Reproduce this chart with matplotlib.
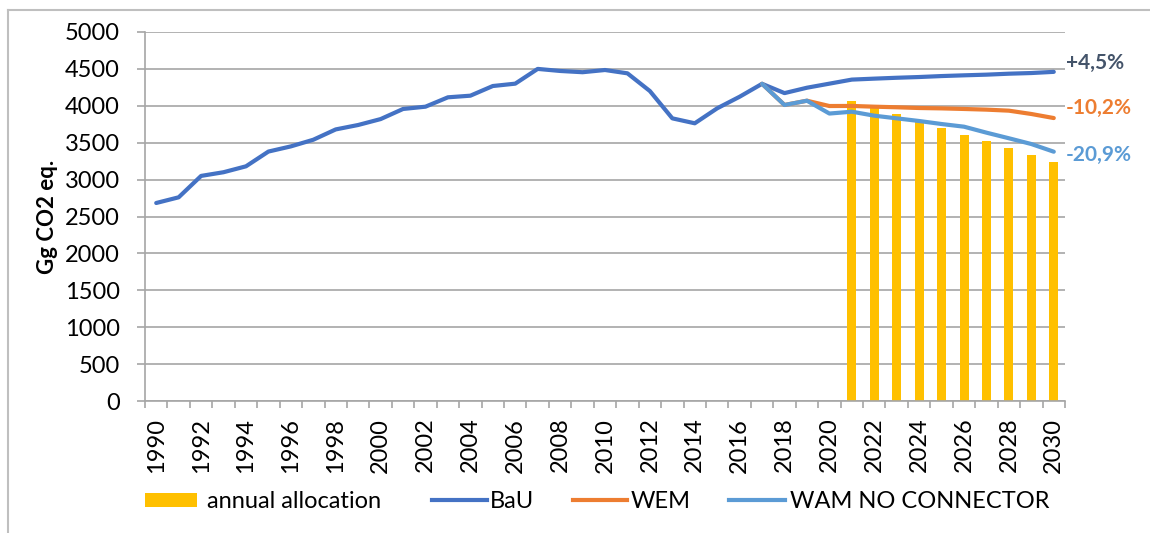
import numpy as np
import matplotlib
matplotlib.use("Agg")
import matplotlib.pyplot as plt
from matplotlib.lines import Line2D
from matplotlib.patches import Rectangle

plt.rcParams['font.family'] = ['Lato', 'DejaVu Sans']

years = list(range(1990, 2031))
nan = np.nan

bau = [2683, 2760, 3050, 3100, 3180, 3380, 3450, 3540, 3680, 3740,
       3820, 3957, 3988, 4115, 4137, 4268, 4300, 4500, 4472, 4455,
       4485, 4440, 4200, 3830, 3763, 3966, 4123, 4298, 4172, 4245,
       4300, 4355, 4368, 4380, 4390, 4403, 4413, 4422, 4435, 4444, 4460]
wem = [nan] * 27 + [4298, 4011, 4069,
       3997, 3998, 3988, 3980, 3970, 3965, 3957, 3948, 3934, 3889, 3834]
wam = [nan] * 27 + [4298, 4011, 4069,
       3895, 3920, 3866, 3830, 3794, 3753, 3717, 3636, 3560, 3482, 3378]
allocation = [nan] * 31 + [4069, 3966, 3889, 3798, 3699, 3604, 3523, 3428, 3333, 3243]

end_labels = ["+4,5%", "-10,2%", "-20,9%"]
end_colors = ["#44546A", "#ED7D31", "#5B9BD5"]
legend_labels = ["annual allocation", "BaU", "WEM", "WAM NO CONNECTOR"]

C_BAR = "#FFC000"
C_BAU = "#4472C4"
C_WEM = "#ED7D31"
C_WAM = "#5B9BD5"
GRID = "#A6A6A6"

W, H = 1150, 533
fig = plt.figure(figsize=(W / 100, H / 100), dpi=100)
ax = fig.add_axes([145 / W, 1 - 401 / H, 920 / W, 369 / H])

x = np.arange(len(years))
ax.bar(x, allocation, width=0.4, color=C_BAR, zorder=2)
ax.plot(x, bau, color=C_BAU, lw=3, zorder=3, solid_capstyle='round')
ax.plot(x, wem, color=C_WEM, lw=3, zorder=4, solid_capstyle='round')
ax.plot(x, wam, color=C_WAM, lw=3, zorder=5, solid_capstyle='round')

ax.set_xlim(-0.5, len(years) - 0.5)
ax.set_ylim(0, 5000)
ax.set_yticks(np.arange(0, 5001, 500))
ax.yaxis.grid(True, color=GRID, lw=1.2, zorder=0)
ax.set_axisbelow(True)

# category boundaries as major ticks (no labels), centres as minor ticks with labels
ax.set_xticks(np.arange(-0.5, len(years), 1.0))
ax.set_xticklabels([])
even_idx = [i for i, y in enumerate(years) if y % 2 == 0]
ax.set_xticks(even_idx, minor=True)
ax.set_xticklabels([str(years[i]) for i in even_idx], minor=True, rotation=90,
                   fontsize=17)
ax.tick_params(axis='x', which='major', length=5, color=GRID, width=1.2)
ax.tick_params(axis='x', which='minor', length=0, pad=12)
ax.tick_params(axis='y', length=6, color=GRID, width=1.2, pad=12, labelsize=17)

for s in ['top', 'right']:
    ax.spines[s].set_visible(False)
for s in ['left', 'bottom']:
    ax.spines[s].set_color(GRID)
    ax.spines[s].set_linewidth(1.2)

ax.set_ylabel("Gg CO2 eq.", fontsize=16, fontweight='bold')
ax.yaxis.set_label_coords(-87 / 920, 0.5)

# end labels (offsets in points from the last data point)
end_vals = [bau[-1], wem[-1], wam[-1]]
end_dy = [6.5, 7.4, -2.4]
for val, lab, col, dy in zip(end_vals, end_labels, end_colors, end_dy):
    ax.annotate(lab, xy=(x[-1], val), xytext=(8.5, dy), textcoords='offset points',
                color=col, fontsize=15, fontweight='bold', va='center', ha='left',
                annotation_clip=False)

# legend laid out like the Excel legend (positions in figure pixels)
def fx(px):
    return px / W

def fy(py):
    return 1 - py / H

ly = 501
fig.add_artist(Rectangle((fx(145), fy(507)), fx(197) - fx(145), fy(493) - fy(507),
                         facecolor=C_BAR, edgecolor='none', transform=fig.transFigure))
for (x0, x1), col in zip([(432, 487), (573, 627), (729, 785)], [C_BAU, C_WEM, C_WAM]):
    fig.add_artist(Line2D([fx(x0), fx(x1)], [fy(500), fy(500)], color=col, lw=3))
for tx, lab in zip([207, 490, 631, 790], legend_labels):
    fig.text(fx(tx), fy(ly), lab, fontsize=17, va='center', ha='left')

# outer frame (top and left edges visible)
fig.add_artist(Line2D([8 / W, 1.0], [1 - 10 / H, 1 - 10 / H], color="#BFBFBF", lw=1.5))
fig.add_artist(Line2D([8 / W, 8 / W], [1 - 10 / H, 0.0], color="#BFBFBF", lw=1.5))

fig.savefig("out.png", dpi=100)
